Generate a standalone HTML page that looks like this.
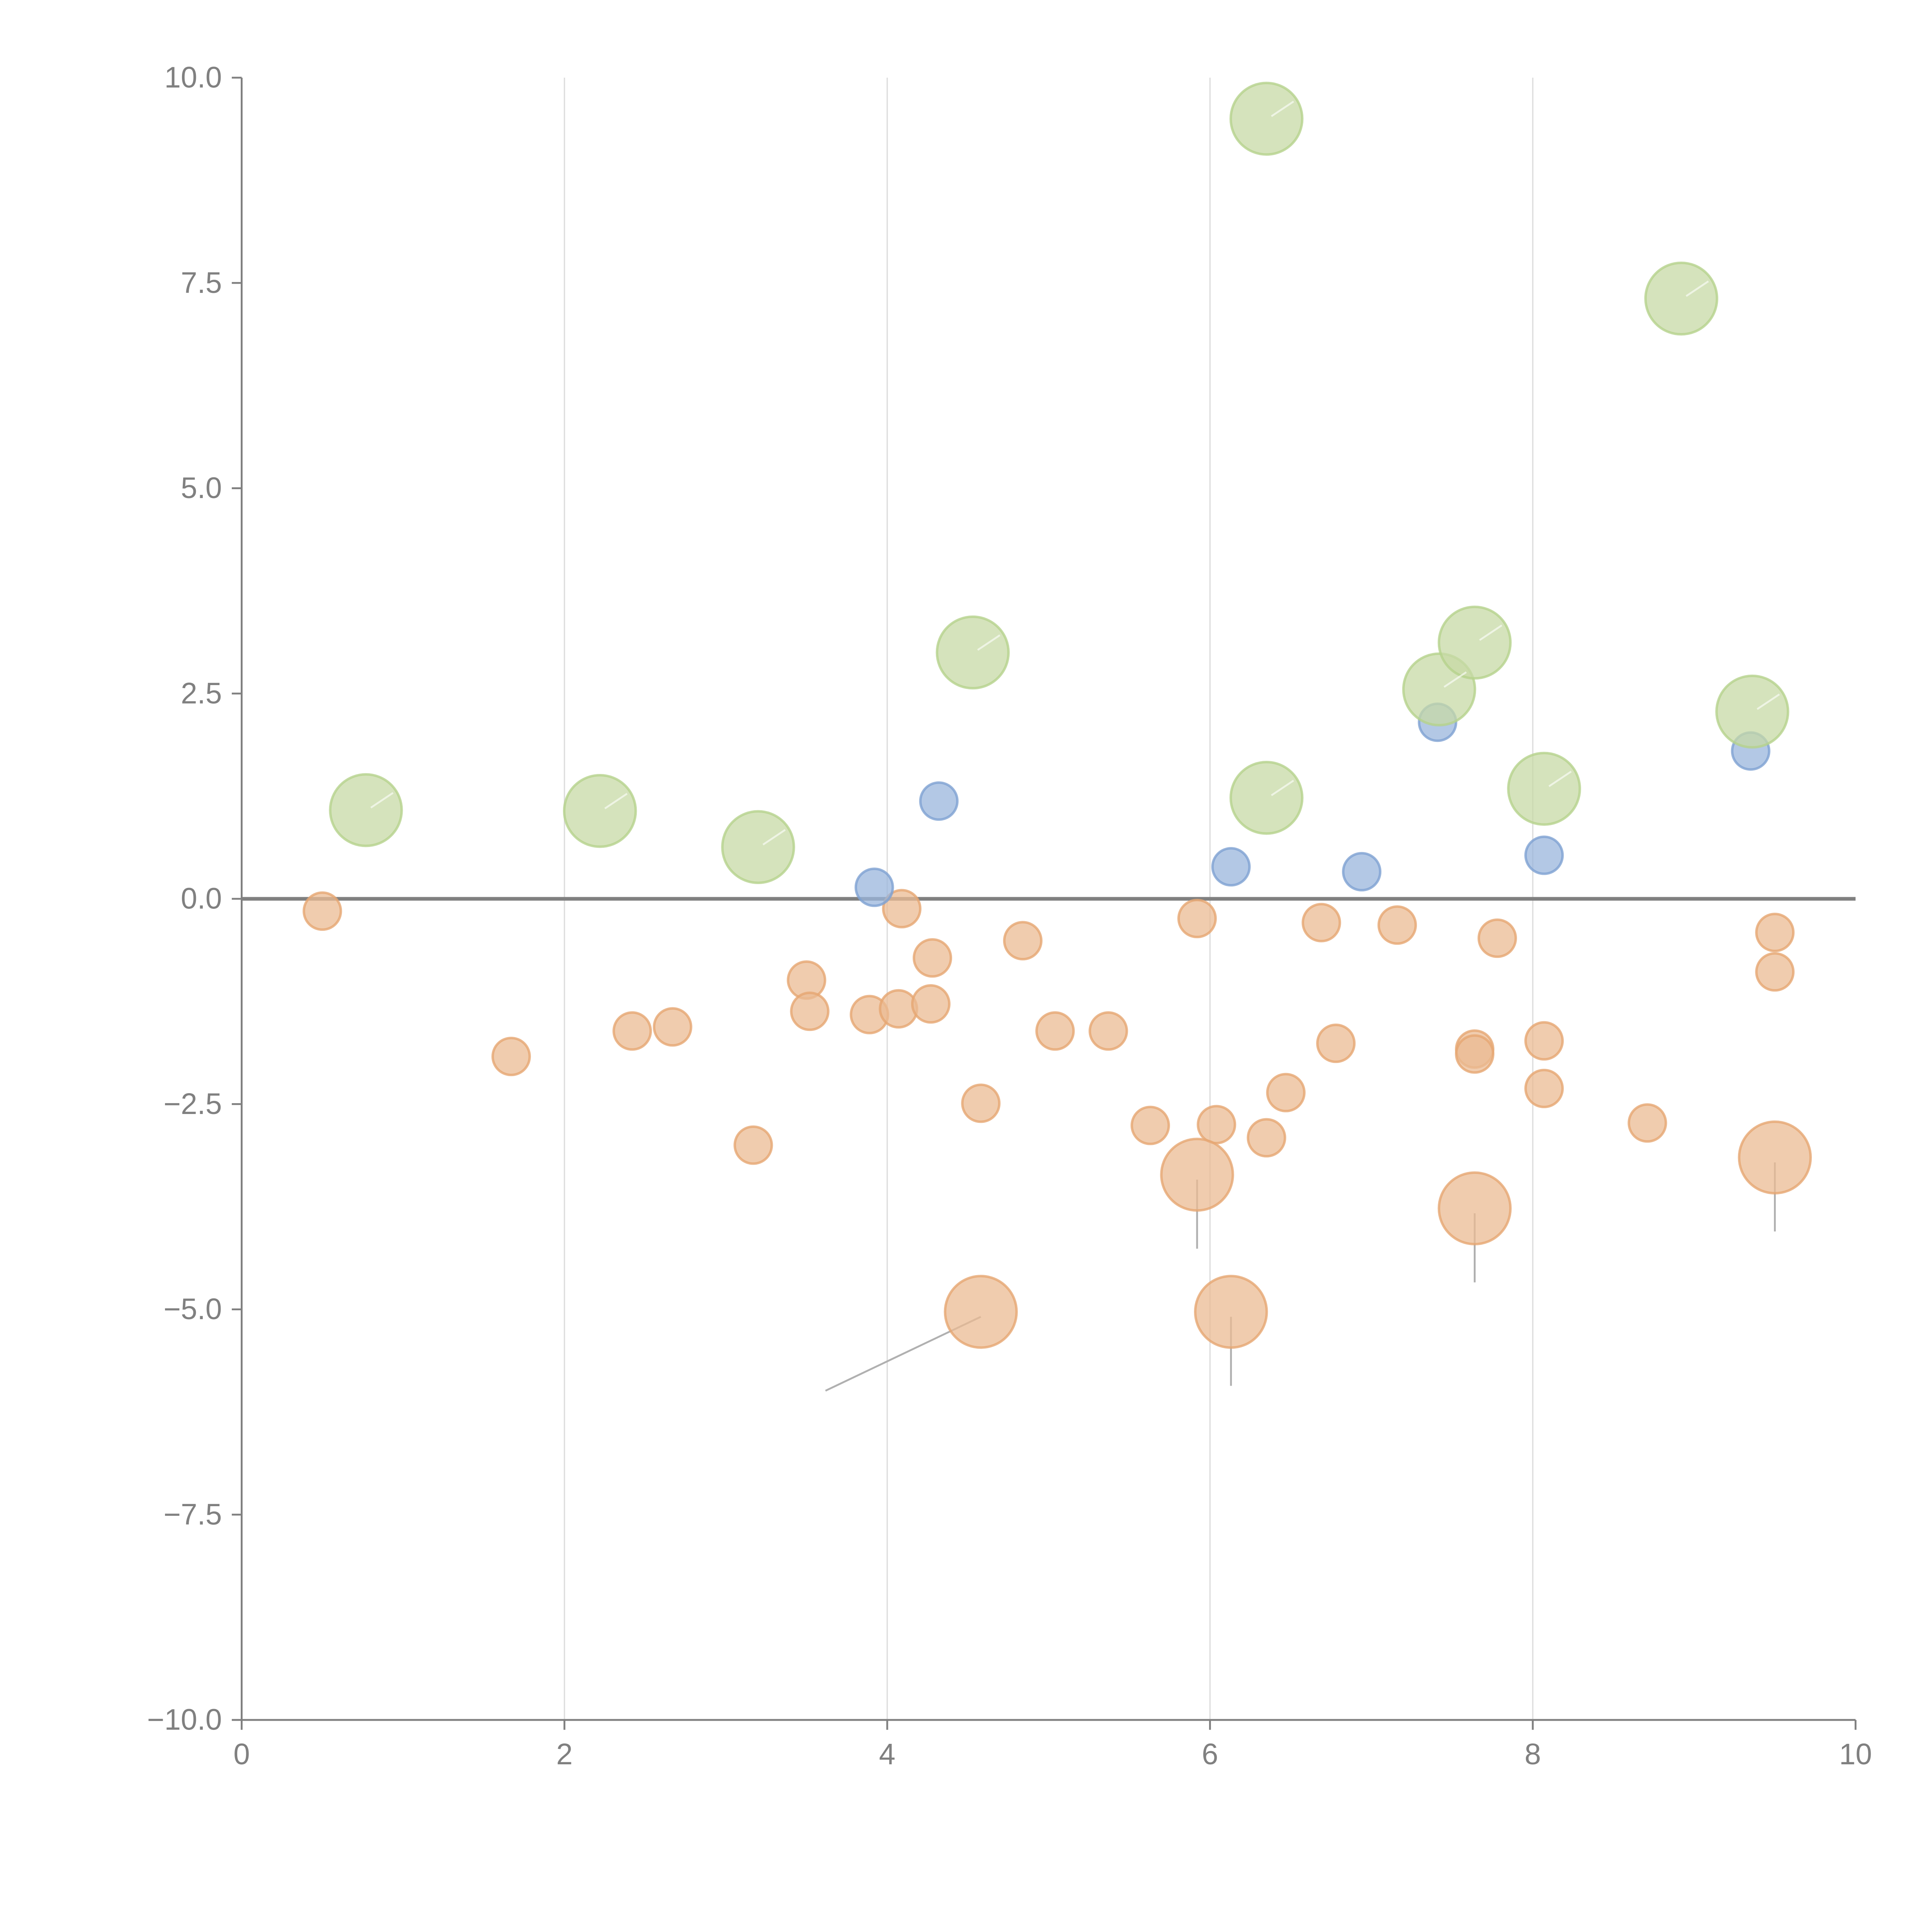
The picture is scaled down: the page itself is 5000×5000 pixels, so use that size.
<!DOCTYPE html>
<html><head><meta charset="utf-8"><style>html,body{margin:0;padding:0;background:#fff}svg{display:block}</style></head>
<body>
<svg id="chart" width="5000" height="5000" viewBox="0 0 1567 1567" xmlns="http://www.w3.org/2000/svg" font-family="'Liberation Sans', sans-serif">
<g id="grid"></g>
<g id="axes"></g>
<g id="leaders"></g>
<g id="marks"></g>
</svg>
<script>
const greenX=[0.77,2.22,3.2,4.53,6.35,6.35,7.42,7.64,8.07,8.92,9.36];
const greenY=[1.08,1.07,0.63,3.0,9.5,1.23,2.55,3.12,1.34,7.31,2.28];
const blueX=[3.92,4.32,6.13,6.94,7.41,8.07,9.35];
const blueY=[0.14,1.19,0.39,0.33,2.15,0.53,1.8];
const orangeX=[0.5,1.67,2.42,2.67,3.17,3.5,3.52,3.89,4.07,4.09,4.28,4.27,4.58,4.84,5.04,5.37,5.63,5.92,6.04,6.35,6.47,6.69,6.78,7.16,7.78,7.64,7.64,8.07,8.07,8.71,9.5,9.5];
const orangeY=[-0.15,-1.92,-1.61,-1.56,-3.0,-0.99,-1.37,-1.41,-1.34,-0.12,-0.72,-1.28,-2.49,-0.51,-1.61,-1.61,-2.76,-0.24,-2.75,-2.91,-2.36,-0.29,-1.76,-0.32,-0.48,-1.83,-1.89,-1.73,-2.31,-2.73,-0.41,-0.89];
const bigOrangeX=[5.92,4.58,6.13,7.64,9.5];
const bigOrangeY=[-3.36,-5.03,-5.03,-3.77,-3.15];
const xTicks=[0,2,4,6,8,10];
const yTicks=[10,7.5,5,2.5,0,-2.5,-5,-7.5,-10];
const yTickLabels=["10.0","7.5","5.0","2.5","0.0","−2.5","−5.0","−7.5","−10.0"];

const NS="http://www.w3.org/2000/svg";
const X0=196,X1=1505,Y0=1395,Y1=63;
const sx=v=>X0+(v-0)/10*(X1-X0);
const sy=v=>Y0-(v+10)/20*(Y0-Y1);
function mk(tag,attrs,parent){const e=document.createElementNS(NS,tag);for(const k in attrs)e.setAttribute(k,attrs[k]);parent.appendChild(e);return e;}
const grid=document.getElementById('grid'),axes=document.getElementById('axes'),marks=document.getElementById('marks'),leaders=document.getElementById('leaders');

xTicks.forEach((t,i)=>{
  if(t>0&&t<10){const g=mk('line',{x1:sx(t),x2:sx(t),y1:Y1,y2:Y0,stroke:'#dcdcdc','stroke-width':1},grid);
  
  }
  const tk=mk('line',{x1:sx(t),x2:sx(t),y1:Y0,y2:Y0+8,stroke:'#808080','stroke-width':1.5},axes);
  
  
  const tx=mk('text',{x:sx(t),y:Y0+36,'text-anchor':'middle','font-size':24,fill:'#808080'},axes);
  tx.textContent=t;
  
  
});
yTicks.forEach((t,i)=>{
  const tk=mk('line',{x1:X0-8,x2:X0,y1:sy(t),y2:sy(t),stroke:'#808080','stroke-width':1.5},axes);
  
  
  const tx=mk('text',{x:X0-16,y:sy(t)+8,'text-anchor':'end','font-size':24,fill:'#808080'},axes);
  tx.textContent=yTickLabels[i];
  
  
});
const ya=mk('line',{x1:X0,x2:X0,y1:Y1,y2:Y0,stroke:'#808080','stroke-width':1.5},axes);


const xa=mk('line',{x1:X0,x2:X1,y1:Y0,y2:Y0,stroke:'#808080','stroke-width':1.5},axes);


const zl=mk('line',{x1:X0,x2:X1,y1:sy(0),y2:sy(0),stroke:'#808080','stroke-width':3},axes);



bigOrangeX.forEach((x,i)=>{
  const cx=sx(x),cy=sy(bigOrangeY[i]);
  const ex=(i===1)?cx-126:cx, ey=cy+(i===1?64:60);
  const l=mk('line',{x1:cx,y1:cy+4,x2:ex,y2:ey,stroke:'#b0b0b0','stroke-width':1.5},leaders);
  
  
});

function bubbles(xs,ys,r,fill,stroke,name){
  xs.forEach((x,i)=>{
    const c=mk('circle',{cx:sx(x),cy:sy(ys[i]),r:r,fill:fill,'fill-opacity':0.75,stroke:stroke,'stroke-width':2,'stroke-opacity':0.8},marks);
    
    
  });
}
bubbles(orangeX,orangeY,15,'#ebbb93','#e6a672','bubble-orange');
bubbles(bigOrangeX,bigOrangeY,29,'#ebbb93','#e6a672','bubble-orange-large');
bubbles(blueX,blueY,15,'#9ab6dc','#7ea1d2','bubble-blue');
bubbles(greenX,greenY,29,'#c7d9a6','#b5d28c','bubble-green');
greenX.forEach((x,i)=>{
  const cx=sx(x),cy=sy(greenY[i]);
  const w=mk('line',{x1:cx+4,y1:cy-2,x2:cx+22,y2:cy-14,stroke:'#ffffff','stroke-width':1.5,'stroke-opacity':0.6},marks);
  
  
});
</script>
</body></html>
